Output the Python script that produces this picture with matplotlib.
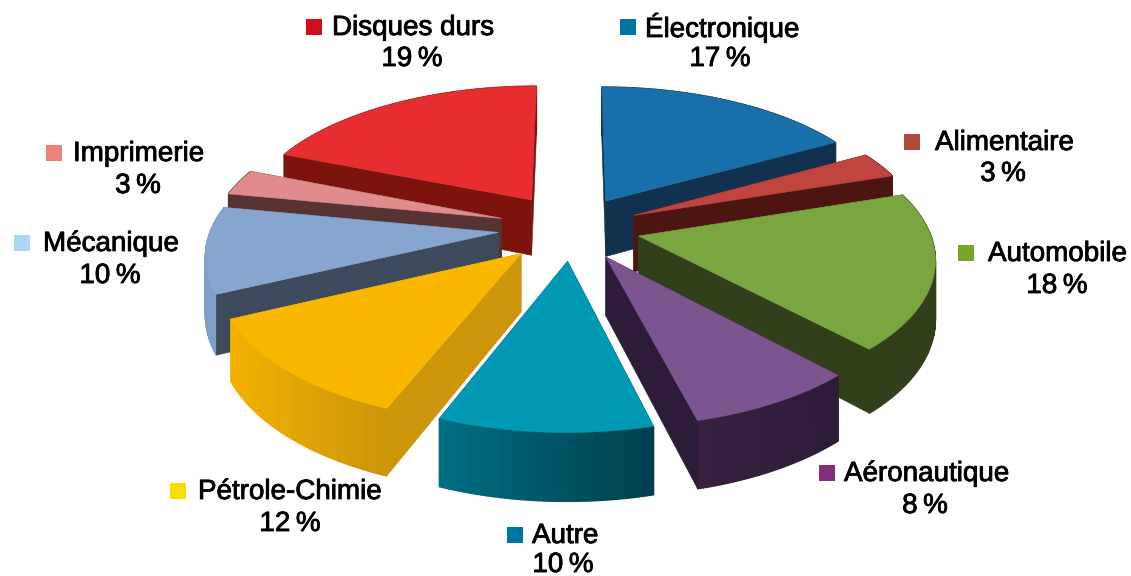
import matplotlib
matplotlib.use('Agg')
import matplotlib.pyplot as plt
import matplotlib.patheffects as pe
import numpy as np

# Data, clockwise from the top of the pie
labels = ['Électronique', 'Alimentaire', 'Automobile', 'Aéronautique', 'Autre',
          'Pétrole-Chimie', 'Mécanique', 'Imprimerie', 'Disques durs']
values = [17, 3, 18, 8, 10, 12, 10, 3, 19]

# Colours
top_colors = ['#1870aa', '#c04540', '#7aa641', '#7c548f', '#0098b2',
              '#fab700', '#86a6cf', '#e08c8c', '#e62e30']
cut_colors = ['#12314f', '#4c1511', '#313f1b', '#2c1c37', '#00505f',
              '#cc950a', '#3c4a5b', '#583333', '#7c140d']
rim_left = ['#12314f', '#4c1511', '#313f1b', '#38203f', '#006f84',
            '#f3b200', '#7f9fc6', '#583333', '#7c140d']
rim_right = ['#12314f', '#4c1511', '#313f1b', '#2c1c37', '#003f4c',
             '#cc950a', '#7f9fc6', '#583333', '#7c140d']
key_colors = ['#0073a5', '#b04a3c', '#78a528', '#842d7f', '#0073a5',
              '#fadc00', '#aad7f5', '#f08278', '#d20f19']

# Text layout: key square x, label x, label y, value centre x, value y
label_layout = [(620, 645, 28, 720, 59), (904, 935, 143, 1003, 174),
                (958, 988, 254, 1057, 286), (819, 844, 474, 925, 506),
                (507, 532, 536, 563, 565), (170, 198, 492, 290, 524),
                (14, 43, 244, 110, 276), (46, 73, 154, 138, 186),
                (306, 332, 28, 412, 59)]

# Pie projection
cx, cy = 572, 228
rx, ry = 290, 137
persp = 0.14
depth = 57
explode = [0.235, 0.235, 0.235, 0.235, 0.235, 0.25, 0.255, 0.255, 0.255]
radius = [1.0, 1.0, 1.0, 1.0, 1.0, 1.0, 0.99, 1.0, 1.0]


def project(x, y, z=0.0):
    s = 1 / (1 + persp * y)
    return cx + rx * x * s, cy - ry * y * s + z * s


def blend(c1, c2, t):
    a = np.array(matplotlib.colors.to_rgb(c1))
    b = np.array(matplotlib.colors.to_rgb(c2))
    return a + (b - a) * t


def wall(ax, p0, p1, color, lw=0.4):
    xa, ya = project(*p0)
    xb, yb = project(*p1)
    xc, yc = project(*p1, depth)
    xd, yd = project(*p0, depth)
    ax.fill([xa, xb, xc, xd], [ya, yb, yc, yd], color=color, lw=lw)


fig = plt.figure(figsize=(11.31, 5.76), dpi=100)
ax = fig.add_axes([0, 0, 1, 1])
ax.set_xlim(0, 1131)
ax.set_ylim(576, 0)
ax.axis('off')

edges = np.cumsum([0] + values) / sum(values) * 2 * np.pi
mids = (edges[:-1] + edges[1:]) / 2

# Painter's order: the slices further back come first
for i in sorted(range(len(values)), key=lambda k: -np.cos(mids[k])):
    ox, oy = explode[i] * np.sin(mids[i]), explode[i] * np.cos(mids[i])
    th = np.linspace(edges[i], edges[i + 1], 60)
    rim = np.column_stack([ox + radius[i] * np.sin(th), oy + radius[i] * np.cos(th)])
    apex = (ox, oy)

    start_seen = np.sin(edges[i]) < 0
    end_seen = np.sin(edges[i + 1]) > 0

    # Cut faces turned away go first
    if not start_seen:
        wall(ax, apex, rim[0], cut_colors[i])
    if not end_seen:
        wall(ax, apex, rim[-1], cut_colors[i])

    rim_x = [project(*p)[0] for p in rim]
    lo, hi = min(rim_x), max(rim_x)
    for j in np.argsort(-rim[:-1, 1]):
        t = (rim_x[j] - lo) / max(hi - lo, 1)
        wall(ax, rim[j], rim[j + 1], blend(rim_left[i], rim_right[i], t), lw=1.0)

    if start_seen:
        wall(ax, apex, rim[0], cut_colors[i])
    if end_seen:
        wall(ax, apex, rim[-1], cut_colors[i])

    top = [project(*apex)] + [project(*p) for p in rim]
    ax.fill(*zip(*top), color=top_colors[i], lw=0.4)

stroke = [pe.withStroke(linewidth=0.6, foreground='black')]
for i, name in enumerate(labels):
    kx, tx, ty, vx, vy = label_layout[i]
    ax.add_patch(plt.Rectangle((kx, ty - 9), 16, 16, color=key_colors[i], lw=0))
    ax.text(tx, ty, name, fontsize=20, family='Liberation Sans', ha='left',
            va='center', path_effects=stroke)
    ax.text(vx, vy, f'{values[i]}\u2009%', fontsize=20, family='Liberation Sans',
            ha='center', va='center', path_effects=stroke)

fig.savefig('out.png', dpi=100)
